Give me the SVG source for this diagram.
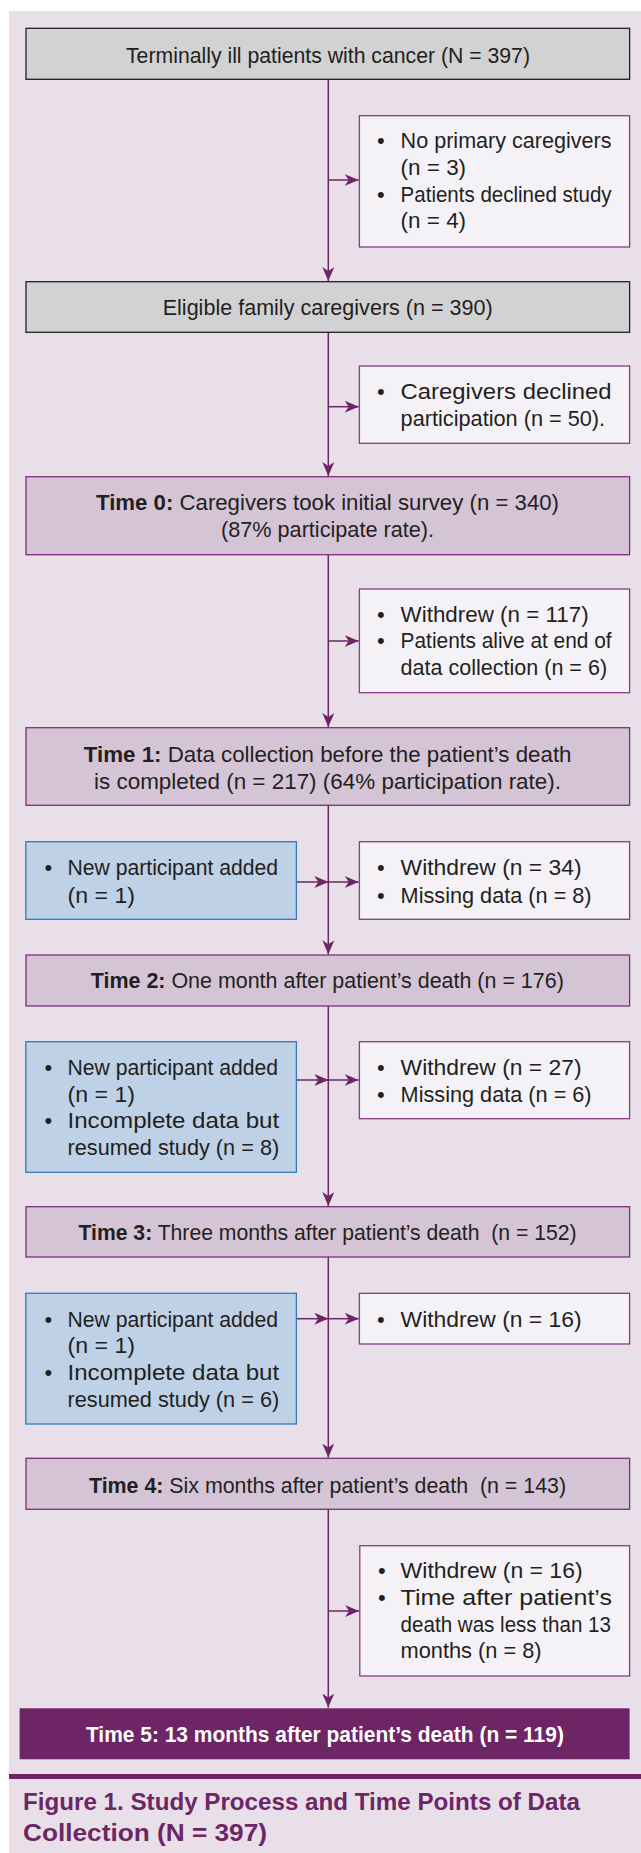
<svg xmlns="http://www.w3.org/2000/svg" width="641" height="1853" viewBox="0 0 641 1853">
<style>
text{font-family:"Liberation Sans",Arial,sans-serif;font-size:22px;fill:#231f20}
.b{font-weight:bold}
.gray{fill:#d1d2d4;stroke:#231f20;stroke-width:1.3}
.time{fill:#d4c4d6;stroke:#7e2d7c;stroke-width:1.3}
.side{fill:#f5f2f7;stroke:#8a3a88;stroke-width:1.3}
.blue{fill:#bed1e7;stroke:#2e7cc0;stroke-width:1.3}
.ln{stroke:#6d2566;stroke-width:1.5;fill:none}
.cap{font-size:24px;font-weight:bold;fill:#6d2566}
</style>
<defs>
<marker id="ah" viewBox="0 0 14 12" refX="14" refY="6" markerWidth="14" markerHeight="12" markerUnits="userSpaceOnUse" orient="auto">
<path d="M0,0 L14,6 L0,12 L4,6 z" fill="#6d2566"/>
</marker>
</defs>
<rect x="9" y="11" width="632" height="1842" fill="#e9dfe8"/>

<g id="connectors">
<line class="ln" x1="328.3" y1="79.3" x2="328.3" y2="281" marker-end="url(#ah)"/>
<line class="ln" x1="328.3" y1="332.3" x2="328.3" y2="476" marker-end="url(#ah)"/>
<line class="ln" x1="328.3" y1="554.7" x2="328.3" y2="727" marker-end="url(#ah)"/>
<line class="ln" x1="328.3" y1="805.3" x2="328.3" y2="954.3" marker-end="url(#ah)"/>
<line class="ln" x1="328.3" y1="1006" x2="328.3" y2="1206" marker-end="url(#ah)"/>
<line class="ln" x1="328.3" y1="1257" x2="328.3" y2="1457.6" marker-end="url(#ah)"/>
<line class="ln" x1="328.3" y1="1509.3" x2="328.3" y2="1707.6" marker-end="url(#ah)"/>
<line class="ln" x1="328.3" y1="180" x2="358.7" y2="180" marker-end="url(#ah)"/>
<line class="ln" x1="328.3" y1="406.7" x2="358.7" y2="406.7" marker-end="url(#ah)"/>
<line class="ln" x1="328.3" y1="641" x2="358.7" y2="641" marker-end="url(#ah)"/>
<line class="ln" x1="328.3" y1="882" x2="358.7" y2="882" marker-end="url(#ah)"/>
<line class="ln" x1="328.3" y1="1080" x2="358.7" y2="1080" marker-end="url(#ah)"/>
<line class="ln" x1="328.3" y1="1318.7" x2="358.7" y2="1318.7" marker-end="url(#ah)"/>
<line class="ln" x1="328.3" y1="1611" x2="359.1" y2="1611" marker-end="url(#ah)"/>
<line class="ln" x1="297" y1="882" x2="328.3" y2="882" marker-end="url(#ah)"/>
<line class="ln" x1="297" y1="1080" x2="328.3" y2="1080" marker-end="url(#ah)"/>
<line class="ln" x1="297" y1="1318.7" x2="328.3" y2="1318.7" marker-end="url(#ah)"/>
</g>

<g id="n-patients">
<rect class="gray" x="26" y="28.3" width="603.6" height="51"/>
<text x="126" y="63" textLength="404" lengthAdjust="spacingAndGlyphs">Terminally ill patients with cancer (N = 397)</text>
</g>

<g id="n-excl1">
<rect class="side" x="359.4" y="115.7" width="270.2" height="131.3"/>
<text x="377" y="148.3">•</text>
<text x="400.6" y="148.3" textLength="211" lengthAdjust="spacingAndGlyphs">No primary caregivers</text>
<text x="400.6" y="175" textLength="65.5" lengthAdjust="spacingAndGlyphs">(n = 3)</text>
<text x="377" y="201.7">•</text>
<text x="400.6" y="201.7" textLength="211" lengthAdjust="spacingAndGlyphs">Patients declined study</text>
<text x="400.6" y="228.3" textLength="65.5" lengthAdjust="spacingAndGlyphs">(n = 4)</text>
</g>

<g id="n-eligible">
<rect class="gray" x="26" y="281.7" width="603.6" height="50.6"/>
<text x="162.7" y="315" textLength="330" lengthAdjust="spacingAndGlyphs">Eligible family caregivers (n = 390)</text>
</g>

<g id="n-excl2">
<rect class="side" x="359.4" y="366" width="270.2" height="77.3"/>
<text x="377" y="399">•</text>
<text x="400.6" y="399" textLength="211" lengthAdjust="spacingAndGlyphs">Caregivers declined</text>
<text x="400.6" y="426" textLength="204.5" lengthAdjust="spacingAndGlyphs">participation (n = 50).</text>
</g>

<g id="n-time0">
<rect class="time" x="26" y="476.7" width="603.6" height="78"/>
<text x="96" y="510" textLength="463" lengthAdjust="spacingAndGlyphs"><tspan class="b">Time 0:</tspan> Caregivers took initial survey (n = 340)</text>
<text x="221" y="537.3" textLength="213" lengthAdjust="spacingAndGlyphs">(87% participate rate).</text>
</g>

<g id="n-excl3">
<rect class="side" x="359.4" y="589" width="270.2" height="103.7"/>
<text x="377" y="621.7">•</text>
<text x="400.6" y="621.7" textLength="188" lengthAdjust="spacingAndGlyphs">Withdrew (n = 117)</text>
<text x="377" y="648.3">•</text>
<text x="400.6" y="648.3" textLength="211" lengthAdjust="spacingAndGlyphs">Patients alive at end of</text>
<text x="400.6" y="675" textLength="206.5" lengthAdjust="spacingAndGlyphs">data collection (n = 6)</text>
</g>

<g id="n-time1">
<rect class="time" x="26" y="727.7" width="603.6" height="77.6"/>
<text x="83.8" y="761.7" textLength="487.7" lengthAdjust="spacingAndGlyphs"><tspan class="b">Time 1:</tspan> Data collection before the patient’s death</text>
<text x="94" y="789.3" textLength="467" lengthAdjust="spacingAndGlyphs">is completed (n = 217) (64% participation rate).</text>
</g>

<g id="n-add1">
<rect class="blue" x="25.8" y="841.7" width="270.6" height="77.6"/>
<text x="44.5" y="875">•</text>
<text x="67.5" y="875" textLength="210.5" lengthAdjust="spacingAndGlyphs">New participant added</text>
<text x="67.5" y="902.7" textLength="67.5" lengthAdjust="spacingAndGlyphs">(n = 1)</text>
</g>

<g id="n-excl4">
<rect class="side" x="359.4" y="841.7" width="270.2" height="77.6"/>
<text x="377" y="875">•</text>
<text x="400.6" y="875" textLength="181" lengthAdjust="spacingAndGlyphs">Withdrew (n = 34)</text>
<text x="377" y="902.7">•</text>
<text x="400.6" y="902.7" textLength="191" lengthAdjust="spacingAndGlyphs">Missing data (n = 8)</text>
</g>

<g id="n-time2">
<rect class="time" x="26" y="955" width="603.6" height="51"/>
<text x="90.8" y="988.3" textLength="473" lengthAdjust="spacingAndGlyphs"><tspan class="b">Time 2:</tspan> One month after patient’s death (n = 176)</text>
</g>

<g id="n-add2">
<rect class="blue" x="25.8" y="1041.7" width="270.6" height="130.6"/>
<text x="44.5" y="1075">•</text>
<text x="67.5" y="1075" textLength="210.5" lengthAdjust="spacingAndGlyphs">New participant added</text>
<text x="67.5" y="1101.7" textLength="67.5" lengthAdjust="spacingAndGlyphs">(n = 1)</text>
<text x="44.5" y="1128.3">•</text>
<text x="67.5" y="1128.3" textLength="211.7" lengthAdjust="spacingAndGlyphs">Incomplete data but</text>
<text x="67.5" y="1155" textLength="211.7" lengthAdjust="spacingAndGlyphs">resumed study (n = 8)</text>
</g>

<g id="n-excl5">
<rect class="side" x="359.4" y="1041.7" width="270.2" height="77"/>
<text x="377" y="1075">•</text>
<text x="400.6" y="1075" textLength="181" lengthAdjust="spacingAndGlyphs">Withdrew (n = 27)</text>
<text x="377" y="1101.7">•</text>
<text x="400.6" y="1101.7" textLength="191" lengthAdjust="spacingAndGlyphs">Missing data (n = 6)</text>
</g>

<g id="n-time3">
<rect class="time" x="26" y="1206.7" width="603.6" height="50.3"/>
<text x="78.5" y="1240" textLength="498" lengthAdjust="spacingAndGlyphs" xml:space="preserve"><tspan class="b">Time 3:</tspan> Three months after patient’s death  (n = 152)</text>
</g>

<g id="n-add3">
<rect class="blue" x="25.8" y="1293.3" width="270.6" height="130.7"/>
<text x="44.5" y="1326.7">•</text>
<text x="67.5" y="1326.7" textLength="210.5" lengthAdjust="spacingAndGlyphs">New participant added</text>
<text x="67.5" y="1353.3" textLength="67.5" lengthAdjust="spacingAndGlyphs">(n = 1)</text>
<text x="44.5" y="1380">•</text>
<text x="67.5" y="1380" textLength="211.7" lengthAdjust="spacingAndGlyphs">Incomplete data but</text>
<text x="67.5" y="1406.7" textLength="211.7" lengthAdjust="spacingAndGlyphs">resumed study (n = 6)</text>
</g>

<g id="n-excl6">
<rect class="side" x="359.4" y="1293.3" width="270.2" height="50.7"/>
<text x="377" y="1326.7">•</text>
<text x="400.6" y="1326.7" textLength="181" lengthAdjust="spacingAndGlyphs">Withdrew (n = 16)</text>
</g>

<g id="n-time4">
<rect class="time" x="26" y="1458.3" width="603.6" height="51"/>
<text x="89" y="1492.7" textLength="477" lengthAdjust="spacingAndGlyphs" xml:space="preserve"><tspan class="b">Time 4:</tspan> Six months after patient’s death  (n = 143)</text>
</g>

<g id="n-excl7">
<rect class="side" x="359.8" y="1545.7" width="269.8" height="130.3"/>
<text x="378" y="1578.3">•</text>
<text x="400.6" y="1578.3" textLength="182" lengthAdjust="spacingAndGlyphs">Withdrew (n = 16)</text>
<text x="378" y="1605">•</text>
<text x="400.6" y="1605" textLength="211.4" lengthAdjust="spacingAndGlyphs">Time after patient’s</text>
<text x="400.6" y="1631.7" textLength="210.4" lengthAdjust="spacingAndGlyphs">death was less than 13</text>
<text x="400.6" y="1658.3" textLength="141" lengthAdjust="spacingAndGlyphs">months (n = 8)</text>
</g>

<g id="n-time5">
<rect x="19.6" y="1708.3" width="610" height="51" fill="#6d2566"/>
<text x="85.9" y="1741.7" textLength="478" lengthAdjust="spacingAndGlyphs" class="b" style="fill:#ffffff">Time 5: 13 months after patient’s death (n = 119)</text>
</g>

<g id="caption">
<rect x="9" y="1774" width="632" height="5" fill="#6d2566"/>
<text class="cap" x="23" y="1810" textLength="557" lengthAdjust="spacingAndGlyphs">Figure 1. Study Process and Time Points of Data</text>
<text class="cap" x="23" y="1841" textLength="244" lengthAdjust="spacingAndGlyphs">Collection (N = 397)</text>
</g>
</svg>
